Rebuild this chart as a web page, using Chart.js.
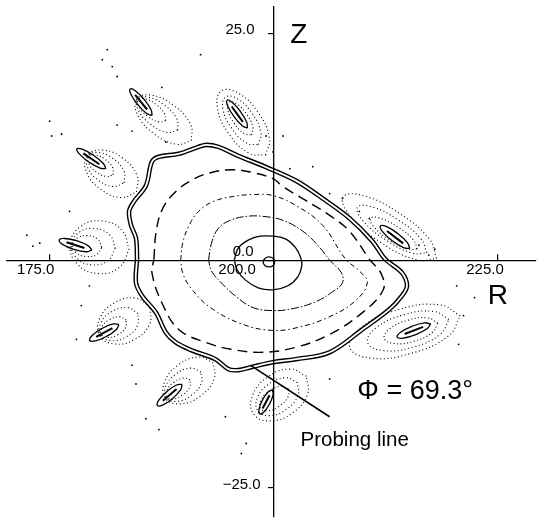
<!DOCTYPE html>
<html>
<head>
<meta charset="utf-8">
<script src="https://cdn.jsdelivr.net/npm/chart.js@4.4.1/dist/chart.umd.min.js"></script>
<style>
  html, body { margin: 0; padding: 0; background: #fff; }
  #poincare { display: block; }
</style>
</head>
<body>
<canvas id="poincare" width="540" height="521"></canvas>
<script>
// axes
const rTicks = [175, 200, 225];
const zTicks = [25, 0, -25];
const rTickLabels = ['175.0', '200.0', '225.0'];
const zTickLabels = ['25.0', '0.0', '\u221225.0'];

// magnetic axis and nested surfaces, [R, Z]
const magAxis = [[200.14,-0.16],[199.95,0.23],[199.49,0.39],[199.03,0.23],[198.84,-0.16],[199.03,-0.55],[199.49,-0.71],[199.95,-0.55]];

const surfaceA = [[195.62,0.05],[196.06,1.36],[197.17,2.24],[198.50,2.67],[199.93,2.67],[201.37,2.35],[202.48,1.36],[203.03,0.27],
  [203.14,-0.60],[202.70,-1.80],[201.59,-2.78],[199.93,-3.22],[198.28,-3.00],[196.84,-2.13],[195.95,-1.04]];

const surfaceB = [[192.75,0.05],[193.08,1.91],[193.85,3.54],[195.18,4.42],[196.95,4.85],[198.83,4.85],[201.04,4.42],[203.25,3.22],
  [204.91,1.69],[206.24,0.05],[207.56,-1.36],[207.67,-2.45],[206.57,-3.44],[204.69,-4.53],[202.15,-5.29],[199.93,-5.51],
  [197.72,-5.18],[195.84,-3.98],[194.07,-2.35],[193.08,-1.15]];

const surfaceC = [[189.65,0.05],[189.87,1.91],[190.54,3.76],[191.64,5.40],[193.30,6.49],[195.51,7.04],[197.72,7.25],[199.93,7.14],
  [202.48,6.05],[205.46,3.87],[208.01,0.16],[209.55,-1.15],[210.44,-2.45],[209.00,-4.53],[206.02,-6.27],[202.70,-7.36],
  [199.93,-7.69],[196.62,-7.04],[192.97,-5.18],[190.76,-3.00],[189.87,-1.36]];

const surfaceD = [[186.67,0.16],[186.89,3.00],[187.55,5.51],[188.88,7.36],[190.76,8.78],[192.97,9.65],[195.51,9.98],[197.72,9.65],
  [199.93,8.99],[201.04,8.13],[203.58,6.60],[206.24,4.96],[208.45,3.22],[210.66,0.16],[211.99,-1.47],[212.21,-3.22],
  [209.89,-5.73],[206.24,-8.12],[202.48,-9.54],[198.83,-10.09],[195.29,-9.76],[192.42,-9.00],[189.43,-7.58],[187.55,-4.64],
  [186.45,-1.36]];

const boundaryE = [[184.79,0.16],[184.67,2.45],[184.12,3.87],[183.90,5.40],[184.45,6.49],[185.78,8.24],[186.44,10.85],[187.22,11.40],
  [189.43,11.73],[191.64,12.49],[192.53,12.71],[193.85,12.49],[196.06,11.51],[199.05,10.31],[202.48,8.78],[205.46,6.82],
  [208.45,4.64],[210.99,2.13],[212.43,0.16],[214.31,-1.36],[214.86,-2.78],[214.31,-3.87],[212.87,-5.40],[209.89,-7.58],
  [206.24,-10.09],[202.48,-10.85],[199.93,-11.18],[197.50,-11.73],[196.06,-12.05],[194.96,-11.94],[193.52,-10.85],[190.87,-9.87],
  [189.10,-9.00],[187.99,-7.91],[186.89,-5.73],[185.34,-3.87],[184.67,-2.45]];

// island chain: dotted loops and solid cores
const islandOuter = [
  [[190.84,13.18],[190.76,14.93],[188.94,16.99],[186.46,18.16],[184.76,17.76],[184.85,16.01],[186.66,13.95],[189.14,12.78]],
  [[199.11,11.59],[199.54,13.43],[198.28,16.26],[196.05,18.41],[194.17,18.63],[193.74,16.79],[195.00,13.96],[197.23,11.81]],
  [[184.72,7.53],[184.79,9.32],[183.21,11.23],[180.90,12.14],[179.22,11.53],[179.15,9.74],[180.74,7.83],[183.04,6.92]],
  [[183.91,1.17],[183.12,3.30],[180.87,4.35],[178.47,3.71],[177.33,1.75],[178.12,-0.38],[180.37,-1.43],[182.77,-0.79]],
  [[186.22,-5.10],[184.61,-4.13],[182.30,-4.64],[180.65,-6.32],[180.62,-8.20],[182.23,-9.17],[184.54,-8.66],[186.19,-6.98]],
  [[193.28,-11.25],[191.63,-10.62],[189.38,-11.49],[187.85,-13.36],[187.94,-15.13],[189.60,-15.76],[191.85,-14.89],[193.37,-13.02]],
  [[203.66,-12.72],[201.82,-11.94],[199.33,-12.82],[197.65,-14.86],[197.76,-16.86],[199.60,-17.64],[202.09,-16.76],[203.77,-14.72]],
  [[220.80,-6.08],[218.52,-4.88],[213.97,-5.39],[209.81,-7.32],[208.48,-9.52],[210.76,-10.72],[215.31,-10.21],[219.47,-8.29]],
  [[218.15,0.22],[217.36,2.34],[213.99,5.19],[210.01,7.12],[207.75,6.98],[208.54,4.86],[211.91,2.01],[215.90,0.08]]
];
const islandMid = [
  [[189.32,14.33],[189.22,15.56],[187.86,17.06],[186.05,17.95],[184.84,17.71],[184.95,16.48],[186.30,14.98],[188.11,14.09]],
  [[198.31,12.73],[198.58,14.07],[197.62,16.15],[195.98,17.77],[194.63,17.97],[194.36,16.64],[195.32,14.55],[196.96,12.93]],
  [[183.34,8.53],[183.35,9.79],[182.17,11.17],[180.49,11.87],[179.30,11.47],[179.29,10.21],[180.47,8.83],[182.15,8.13]],
  [[182.36,1.31],[181.77,2.78],[180.09,3.51],[178.32,3.08],[177.48,1.73],[178.07,0.26],[179.75,-0.47],[181.52,-0.04]],
  [[184.90,-5.83],[183.74,-5.18],[182.02,-5.59],[180.77,-6.82],[180.70,-8.15],[181.86,-8.80],[183.58,-8.39],[184.83,-7.16]],
  [[191.91,-12.25],[190.74,-11.83],[189.12,-12.49],[187.99,-13.83],[188.03,-15.07],[189.20,-15.49],[190.82,-14.83],[191.95,-13.49]],
  [[202.66,-13.42],[201.32,-12.89],[199.47,-13.58],[198.20,-15.08],[198.24,-16.52],[199.58,-17.05],[201.43,-16.36],[202.70,-14.86]],
  [[219.53,-6.49],[217.85,-5.60],[214.50,-5.97],[211.45,-7.38],[210.47,-9.01],[212.15,-9.90],[215.50,-9.53],[218.55,-8.12]],
  [[217.06,0.84],[216.43,2.35],[213.91,4.44],[210.97,5.89],[209.34,5.86],[209.97,4.35],[212.49,2.26],[215.43,0.81]]
];
const islandInner = [
  [[187.96,15.36],[187.85,16.14],[186.92,17.14],[185.71,17.76],[184.92,17.64],[185.03,16.86],[185.96,15.86],[187.17,15.24]],
  [[197.55,13.80],[197.68,14.67],[196.99,16.09],[195.89,17.22],[195.03,17.40],[194.91,16.53],[195.59,15.11],[196.69,13.98]],
  [[182.13,9.42],[182.08,10.20],[181.25,11.11],[180.13,11.61],[179.38,11.42],[179.42,10.64],[180.25,9.73],[181.37,9.23]],
  [[180.86,1.44],[180.45,2.29],[179.32,2.73],[178.13,2.49],[177.58,1.72],[177.99,0.87],[179.12,0.44],[180.31,0.67]],
  [[183.59,-6.55],[182.85,-6.19],[181.73,-6.50],[180.87,-7.29],[180.79,-8.11],[181.53,-8.47],[182.65,-8.16],[183.51,-7.37]],
  [[190.69,-13.13],[189.96,-12.92],[188.90,-13.38],[188.13,-14.25],[188.11,-15.01],[188.84,-15.22],[189.90,-14.76],[190.67,-13.89]],
  [[201.66,-14.08],[200.79,-13.82],[199.53,-14.35],[198.59,-15.36],[198.54,-16.26],[199.41,-16.52],[200.67,-15.99],[201.61,-14.98]],
  [[218.29,-6.89],[217.18,-6.31],[214.98,-6.56],[212.96,-7.49],[212.32,-8.55],[213.42,-9.13],[215.62,-8.88],[217.64,-7.95]],
  [[216.00,1.26],[215.57,2.26],[213.86,3.66],[211.89,4.65],[210.80,4.64],[211.23,3.64],[212.94,2.24],[214.91,1.25]]
];
const islandCore = [
  [[186.46,15.94],[186.35,16.57],[185.59,17.69],[184.62,18.64],[184.02,18.86],[184.13,18.23],[184.90,17.11],[185.86,16.16]],
  [[197.08,14.56],[197.01,15.20],[196.31,16.36],[195.41,17.36],[194.82,17.62],[194.89,16.98],[195.59,15.82],[196.50,14.82]],
  [[181.32,10.09],[181.02,10.67],[179.95,11.55],[178.74,12.21],[178.08,12.27],[178.38,11.69],[179.45,10.81],[180.67,10.15]],
  [[179.75,1.14],[179.32,1.64],[178.08,2.17],[176.75,2.42],[176.11,2.25],[176.54,1.74],[177.78,1.21],[179.11,0.96]],
  [[182.77,-7.04],[182.13,-6.98],[180.91,-7.47],[179.82,-8.21],[179.51,-8.78],[180.15,-8.84],[181.38,-8.35],[182.46,-7.61]],
  [[189.81,-13.62],[189.18,-13.69],[188.11,-14.40],[187.23,-15.33],[187.05,-15.94],[187.68,-15.87],[188.75,-15.16],[189.63,-14.23]],
  [[199.86,-14.22],[199.38,-14.45],[198.76,-15.33],[198.38,-16.33],[198.46,-16.87],[198.94,-16.63],[199.56,-15.75],[199.94,-14.75]],
  [[217.50,-6.97],[216.82,-6.85],[215.45,-7.22],[214.18,-7.87],[213.76,-8.41],[214.44,-8.53],[215.81,-8.16],[217.08,-7.51]],
  [[215.17,1.33],[214.90,1.97],[213.83,2.96],[212.59,3.72],[211.89,3.79],[212.16,3.15],[213.23,2.16],[214.48,1.41]]
];
const islandCoreInner = [
  [[185.91,16.60],[184.57,18.20]],
  [[196.57,15.25],[195.33,16.93]],
  [[180.59,10.58],[178.81,11.78]],
  [[178.93,1.38],[176.93,2.00]],
  [[182.04,-7.43],[180.24,-8.39]],
  [[189.19,-14.14],[187.67,-15.42]],
  [[199.55,-14.81],[198.77,-16.27]],
  [[216.66,-7.30],[214.60,-8.08]],
  [[214.43,1.88],[212.63,3.24]]
];

// stray puncture points
const strayPoints = [[181.47,23.18],[180.92,22.08],[182.02,21.32],[182.57,20.23],[187.55,19.03],[191.86,22.63],[175.05,15.32],
  [175.28,13.69],[176.38,13.91],[177.27,5.40],[172.51,2.78],[173.18,1.58],[173.95,1.91],[182.57,14.89],[184.23,14.23],
  [187.99,13.03],[178.59,-4.96],[179.48,-2.78],[178.04,-8.67],[184.23,-11.51],[184.67,-13.58],[185.78,-17.40],[187.22,-18.60],
  [194.63,-17.18],[196.95,-20.12],[196.40,-21.22],[220.39,-2.78],[222.38,-4.09],[220.61,-9.22],[221.16,-6.05],[206.24,-13.03],
  [201.04,13.69],[204.36,10.31],[199.16,13.69],[199.93,11.94],[201.81,10.09],[206.24,7.36],[207.67,6.82],[209.55,5.40],
  [210.66,4.64],[216.19,1.69],[217.96,1.25],[217.29,0.60]];

const probingLine = [[197.39,-11.51],[206.24,-17.18]];

// text placement (data coords) and look
const FONT = '"Liberation Sans", Arial, Helvetica, sans-serif';
const rLabelDx = [-13.5, -36.5, -13];
const zLabelDx = [-19, -20, -13];
const zLabelDy = [-3.5, -9, -3.5];
const figureTexts = [
  { text: 'Z', at: [201.85, 23.91], size: 28 },
  { text: 'R', at: [223.85, -4.83], size: 28 },
  { text: '\u03A6 = 69.3\u00B0', at: [209.33, -15.22], size: 27 },
  { text: 'Probing line', at: [203.0, -20.34], size: 20.5 }
];

const toXY = pts => pts.map(p => ({ x: p[0], y: p[1] }));
const closed = pts => toXY(pts.concat([pts[0]]));

function curve(data, style) {
  return Object.assign({ data, showLine: true, pointRadius: 0, borderColor: '#000',
    fill: false, tension: 0.4, borderWidth: 1 }, style);
}

// pushed bottom-to-top; reversed below because Chart.js paints dataset 0 last
const datasets = [];
datasets.push({ data: toXY(strayPoints), showLine: false, pointRadius: 0.9, pointBorderWidth: 0,
  backgroundColor: '#000', pointBackgroundColor: '#000' });
islandOuter.forEach(l => datasets.push(curve(closed(l), { borderDash: [1, 2.6], borderWidth: 1.1, tension: 0.45 })));
islandMid.forEach(l => datasets.push(curve(closed(l), { borderDash: [1, 2.6], borderWidth: 1.1, tension: 0.45 })));
islandInner.forEach(l => datasets.push(curve(closed(l), { borderDash: [1, 2.4], borderWidth: 1.1, tension: 0.45 })));
islandCore.forEach(l => datasets.push(curve(closed(l), { borderWidth: 1.3, tension: 0.45 })));
islandCoreInner.forEach(l => datasets.push(curve(toXY(l), { borderWidth: 2, tension: 0 })));

datasets.push(curve(closed(magAxis), { borderWidth: 1.3, tension: 0.45 }));
datasets.push(curve(closed(surfaceA), { borderWidth: 1.3 }));
datasets.push(curve(closed(surfaceB), { borderWidth: 1, borderDash: [8, 2, 1.5, 2] }));
datasets.push(curve(closed(surfaceC), { borderWidth: 1, borderDash: [5, 3, 1.5, 3] }));
datasets.push(curve(closed(surfaceD), { borderWidth: 1.4, borderDash: [10, 6] }));
// double boundary line: wide black stroke with a white core on top
datasets.push(curve(closed(boundaryE), { borderWidth: 4.6, tension: 0.35 }));
datasets.push(curve(closed(boundaryE), { borderWidth: 1.8, borderColor: '#fff', tension: 0.35 }));
datasets.push(curve(toXY(probingLine), { borderWidth: 1.6, tension: 0 }));
datasets.reverse();

const textPlugin = {
  id: 'figureText',
  afterDraw(chart) {
    const { ctx } = chart;
    const x = chart.scales.x, y = chart.scales.y;
    const x0 = x.getPixelForValue(200), y0 = y.getPixelForValue(0);
    ctx.save();
    ctx.fillStyle = '#000';
    ctx.font = '15px ' + FONT;
    ctx.textBaseline = 'middle';
    ctx.textAlign = 'center';
    rTicks.forEach((v, i) => ctx.fillText(rTickLabels[i], x.getPixelForValue(v) + rLabelDx[i], y0 + 9));
    ctx.textAlign = 'right';
    zTicks.forEach((v, i) => ctx.fillText(zTickLabels[i], x0 + zLabelDx[i], y.getPixelForValue(v) + zLabelDy[i]));
    ctx.textAlign = 'left';
    ctx.textBaseline = 'alphabetic';
    figureTexts.forEach(t => {
      ctx.font = t.size + 'px ' + FONT;
      ctx.fillText(t.text, x.getPixelForValue(t.at[0]), y.getPixelForValue(t.at[1]));
    });
    ctx.restore();
  }
};

new Chart(document.getElementById('poincare'), {
  type: 'scatter',
  data: { datasets },
  plugins: [textPlugin],
  options: {
    responsive: false,
    animation: false,
    devicePixelRatio: 1,
    layout: { padding: { left: 7, top: 7, right: 0, bottom: 0 } },
    plugins: { legend: { display: false }, tooltip: { enabled: false } },
    elements: { line: { borderCapStyle: 'butt' } },
    scales: {
      x: {
        type: 'linear', min: 170.3, max: 229.23, bounds: 'data',
        position: { y: 0 },
        afterBuildTicks: s => { s.ticks = rTicks.map(v => ({ value: v })); },
        ticks: { display: false },
        grid: { drawOnChartArea: false, drawTicks: true, tickLength: -7, color: '#000', lineWidth: 1.2, z: 1 },
        border: { display: true, color: '#000', width: 1.3, z: 1 }
      },
      y: {
        type: 'linear', min: -28.2, max: 27.87, bounds: 'data',
        position: { x: 200 },
        afterBuildTicks: s => { s.ticks = zTicks.map(v => ({ value: v })); },
        ticks: { display: false },
        grid: { drawOnChartArea: false, drawTicks: true, tickLength: 5, color: '#000', lineWidth: 1.2, z: 1 },
        border: { display: true, color: '#000', width: 1.3, z: 1 }
      }
    }
  }
});
</script>
</body>
</html>
